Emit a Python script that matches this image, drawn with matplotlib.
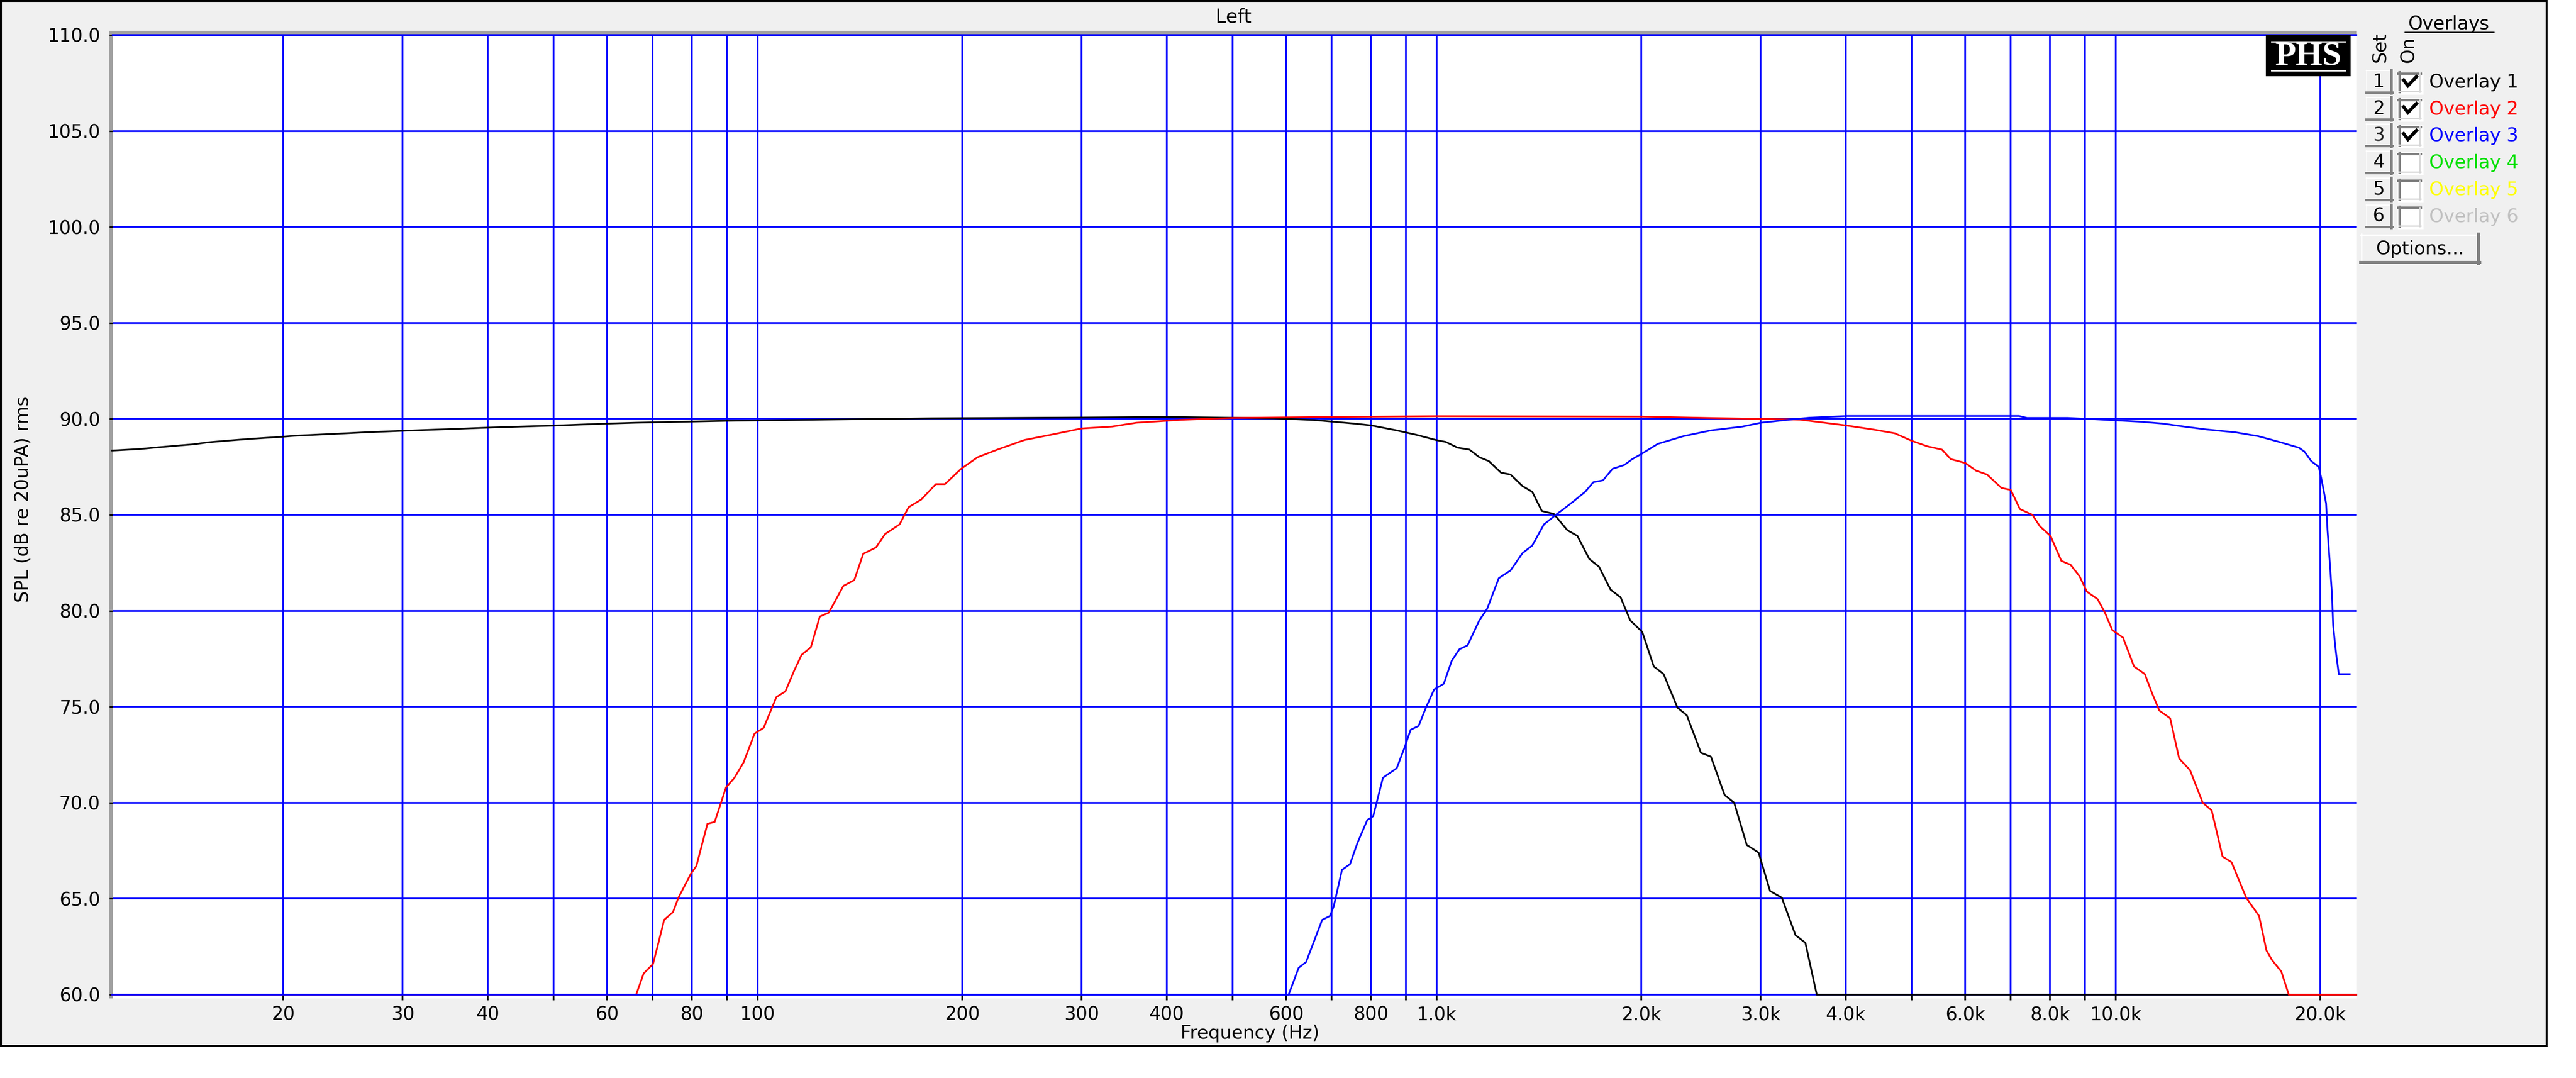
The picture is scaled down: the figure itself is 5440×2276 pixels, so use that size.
import matplotlib
matplotlib.use('Agg')
import matplotlib.pyplot as plt
from matplotlib.patches import Rectangle

plt.rcParams['font.family'] = ['DejaVu Sans']

# ---- values ----
# Overlay 1 (black, low pass)
freq_1 = [11.2, 12.3, 13.0, 13.9, 14.8, 15.5, 16.6, 17.9, 19.6, 21.0, 23.8, 26.4, 30.0, 35.3,
          41.1, 50.0, 59.4, 66, 90, 130, 180, 300, 400, 500, 575, 660, 754, 801, 873, 933, 997,
          1031, 1073, 1117, 1155, 1193, 1243, 1284, 1337, 1382, 1428, 1487, 1557, 1611, 1677,
          1733, 1803, 1865, 1927, 2007, 2087, 2158, 2262, 2335, 2449, 2533, 2654, 2741, 2861,
          2978, 3096, 3222, 3375, 3490, 3627, 22600]
spl_1 = [88.35, 88.43, 88.51, 88.60, 88.68, 88.78, 88.87, 88.96, 89.05, 89.13, 89.22, 89.30,
         89.38, 89.47, 89.56, 89.65, 89.75, 89.80, 89.90, 89.97, 90.03, 90.07, 90.10, 90.06,
         90.03, 89.94, 89.76, 89.66, 89.40, 89.17, 88.90, 88.80, 88.50, 88.40, 88.00, 87.80,
         87.20, 87.10, 86.50, 86.20, 85.20, 85.05, 84.20, 83.90, 82.70, 82.30, 81.10, 80.70,
         79.50, 78.90, 77.10, 76.70, 74.95, 74.55, 72.60, 72.40, 70.40, 70.00, 67.80, 67.40,
         65.40, 65.05, 63.10, 62.70, 60.00, 60.00]

# Overlay 2 (red, band pass)
freq_2 = [11.2, 66.2, 67.9, 70.1, 71.4, 72.8, 75.0, 76.4, 79.7, 81.2, 84.3, 86.4, 89.8, 92.4,
          95.3, 98.9, 102.0, 106.5, 109.8, 113.2, 116.0, 119.7, 123.4, 127.2, 133.7, 138.7,
          143.0, 149.3, 154.0, 161.7, 166.8, 174.1, 182.9, 188.6, 199.3, 210.7, 225.4, 247.0,
          272.6, 299.6, 332.5, 361, 420, 500, 700, 1000, 2000, 2500, 3000, 3428, 4003, 4388,
          4725, 4996, 5278, 5544, 5715, 6004, 6227, 6462, 6787, 7003, 7223, 7535, 7731, 8014,
          8313, 8576, 8842, 9064, 9404, 9638, 9878, 10249, 10635, 11034, 11309, 11590, 12023,
          12396, 12860, 13425, 13841, 14359, 14805, 15561, 16253, 16667, 16985, 17528, 17976,
          22600]
spl_2 = [60.0, 60.0, 61.1, 61.6, 62.7, 63.9, 64.3, 65.05, 66.3, 66.7, 68.9, 69.0, 70.8, 71.3,
         72.1, 73.6, 73.9, 75.5, 75.8, 76.9, 77.7, 78.1, 79.7, 79.9, 81.3, 81.6, 82.97, 83.3,
         84.0, 84.5, 85.4, 85.8, 86.6, 86.6, 87.4, 88.0, 88.4, 88.9, 89.2, 89.5, 89.6, 89.8,
         89.95, 90.05, 90.1, 90.14, 90.12, 90.05, 90.0, 89.96, 89.66, 89.45, 89.25, 88.87,
         88.57, 88.4, 87.9, 87.7, 87.3, 87.1, 86.4, 86.3, 85.3, 85.0, 84.4, 83.9, 82.6, 82.4,
         81.8, 81.0, 80.6, 79.9, 79.0, 78.6, 77.1, 76.7, 75.7, 74.8, 74.4, 72.3, 71.7, 70.0,
         69.6, 67.2, 66.9, 65.05, 64.1, 62.3, 61.8, 61.2, 60.0, 60.0]

# Overlay 3 (blue, high pass)
freq_3 = [11.2, 605, 626, 642, 678, 696, 705, 725, 745, 764, 790, 806, 833, 873, 897, 915, 940,
          965, 991, 1024, 1052, 1080, 1110, 1155, 1186, 1234, 1284, 1337, 1382, 1438, 1497,
          1537, 1589, 1654, 1700, 1757, 1815, 1889, 1940, 2007, 2116, 2308, 2533, 2820, 3000,
          3307, 3534, 4022, 5500, 7200, 7400, 8500, 9800, 10800, 11700, 12600, 13600, 15000,
          16200, 17000, 17600, 18600, 18950, 19400, 19900, 20100, 20400, 20500, 20650, 20800,
          20900, 21100, 21300, 22100]
spl_3 = [60.0, 60.0, 61.4, 61.7, 63.9, 64.1, 64.6, 66.5, 66.8, 67.9, 69.1, 69.3, 71.3, 71.8,
         72.9, 73.8, 74.0, 75.0, 75.9, 76.2, 77.4, 78.0, 78.2, 79.5, 80.1, 81.7, 82.1, 83.0,
         83.4, 84.5, 85.0, 85.3, 85.7, 86.2, 86.7, 86.8, 87.4, 87.6, 87.9, 88.2, 88.7, 89.1,
         89.4, 89.6, 89.8, 89.96, 90.06, 90.15, 90.15, 90.15, 90.05, 90.05, 89.94, 89.86,
         89.76, 89.6, 89.45, 89.3, 89.1, 88.9, 88.75, 88.5, 88.3, 87.8, 87.5, 86.8, 85.6, 84.2,
         82.6, 81.0, 79.2, 77.8, 76.7, 76.7]

grid_freqs = [20, 30, 40, 50, 60, 70, 80, 90, 100, 200, 300, 400, 500, 600, 700, 800, 900,
              1000, 2000, 3000, 4000, 5000, 6000, 7000, 8000, 9000, 10000, 20000]
grid_labels = ['20', '30', '40', '', '60', '', '80', '', '100', '200', '300', '400', '', '600',
               '', '800', '', '1.0k', '2.0k', '3.0k', '4.0k', '', '6.0k', '', '8.0k', '',
               '10.0k', '20.0k']
spl_ticks = [60, 65, 70, 75, 80, 85, 90, 95, 100, 105, 110]
spl_labels = ['%.1f' % v for v in spl_ticks]

overlay_names = ['Overlay 1', 'Overlay 2', 'Overlay 3', 'Overlay 4', 'Overlay 5', 'Overlay 6']
overlay_colors = ['#000000', '#ff0000', '#0000ff', '#00e000', '#ffff00', '#c0c0c0']
overlay_on = [True, True, True, False, False, False]

W, H = 5440, 2276
DPI = 100


def pt(px):
    return px * 72.0 / DPI


fig = plt.figure(figsize=(W / DPI, H / DPI), dpi=DPI)
fig.patch.set_facecolor('white')

# pixel-coordinate background layer
bg = fig.add_axes([0, 0, 1, 1])
bg.set_xlim(0, W)
bg.set_ylim(H, 0)
bg.axis('off')

bg.add_patch(Rectangle((2, 2), 5376, 2206, facecolor='#f0f0f0', edgecolor='black', lw=pt(4)))

L, R, T, B = 238, 4976, 74, 2100
bg.add_patch(Rectangle((231, 65), R - 231, 8, facecolor='#a0a0a0', lw=0))
bg.add_patch(Rectangle((231, 65), 7, 2108 - 65, facecolor='#a0a0a0', lw=0))
bg.add_patch(Rectangle((L, T), R - L, 2108 - T, facecolor='white', lw=0))

# main plot
ax = fig.add_axes([L / W, 1 - B / H, (R - L) / W, (B - T) / H])
ax.set_xscale('log')
ax.set_xlim(11.22, 22600)
ax.set_ylim(60, 110)
ax.set_xticks(grid_freqs)
ax.set_xticklabels(grid_labels)
ax.set_yticks(spl_ticks)
ax.set_yticklabels(spl_labels)
ax.minorticks_off()
ax.set_axisbelow(True)
ax.grid(True, color='#0000ff', lw=pt(3.6))
for s in ['left', 'right']:
    ax.spines[s].set_visible(False)
for s in ['top', 'bottom']:
    ax.spines[s].set_color('#0000ff')
    ax.spines[s].set_linewidth(pt(3.6))
ax.tick_params(axis='x', direction='out', length=pt(12), width=pt(3.5), color='black',
               pad=pt(12), labelsize=28)
ax.tick_params(axis='y', direction='out', length=pt(7), width=pt(3), color='black',
               pad=pt(19), labelsize=28)

ax.plot(freq_1, spl_1, color=overlay_colors[0], lw=pt(3.6), clip_on=False, zorder=3)
ax.plot(freq_2, spl_2, color=overlay_colors[1], lw=pt(3.6), clip_on=False, zorder=4)
ax.plot(freq_3, spl_3, color=overlay_colors[2], lw=pt(3.6), clip_on=False, zorder=5)

# titles
bg.text(2605, 36, 'Left', ha='center', va='center', fontsize=29)
bg.text(2640, 2182, 'Frequency (Hz)', ha='center', va='center', fontsize=28)
bg.text(49, 1054, 'SPL (dB re 20uPA) rms', rotation=90, ha='center', va='center', fontsize=28)

# overlays panel
bg.text(5172, 62, 'Overlays', ha='center', va='baseline', fontsize=28)
bg.plot([5079, 5266], [68, 68], color='black', lw=pt(3))
bg.text(5027, 132, 'Set', rotation=90, ha='center', va='bottom', fontsize=28)
bg.text(5086, 132, 'On', rotation=90, ha='center', va='bottom', fontsize=28)

for i in range(6):
    top = 148 + i * 56.7
    # set button
    bg.add_patch(Rectangle((4997, top), 55, 49, facecolor='#f0f0f0', lw=0))
    bg.plot([4997, 5052], [top + 1, top + 1], color='white', lw=pt(2))
    bg.plot([4998, 4998], [top, top + 49], color='white', lw=pt(2))
    bg.plot([4997, 5052], [top + 47, top + 47], color='#808080', lw=pt(5))
    bg.plot([5050, 5050], [top, top + 49], color='#808080', lw=pt(5))
    bg.text(5023, top + 25, str(i + 1), ha='center', va='center', fontsize=28,
            color='#202020' if i == 2 else 'black')
    # check box
    bg.add_patch(Rectangle((5064, top + 4), 54, 48, facecolor='white', lw=0))
    bg.plot([5064, 5112], [top + 6.5, top + 6.5], color='#808080', lw=pt(5))
    bg.plot([5066.5, 5066.5], [top + 4, top + 46], color='#808080', lw=pt(5))
    bg.plot([5110, 5110], [top + 6, top + 46], color='#d8d8d8', lw=pt(3))
    bg.plot([5066, 5112], [top + 45, top + 45], color='#d8d8d8', lw=pt(3))
    if overlay_on[i]:
        bg.plot([5076, 5085, 5103], [top + 21, top + 33, top + 14], color='black',
                lw=pt(7), solid_joinstyle='miter')
    bg.text(5130, top + 26, overlay_names[i], ha='left', va='center', fontsize=28,
            color=overlay_colors[i])

# options button
bg.add_patch(Rectangle((4985, 494), 252, 63, facecolor='#f0f0f0', lw=0))
bg.plot([4985, 5237], [496, 496], color='white', lw=pt(3))
bg.plot([4987, 4987], [494, 557], color='white', lw=pt(3))
bg.plot([4985, 5237], [554, 554], color='#808080', lw=pt(6))
bg.plot([5234, 5234], [494, 557], color='#808080', lw=pt(6))
bg.text(5111, 526, 'Options...', ha='center', va='center', fontsize=28)

# PHS logo over the plot corner
fg = fig.add_axes([0, 0, 1, 1])
fg.set_xlim(0, W)
fg.set_ylim(H, 0)
fg.axis('off')
fg.patch.set_visible(False)
fg.add_patch(Rectangle((4785, 74), 179, 87, facecolor='black', lw=0))
fg.plot([4797, 4952], [88, 88], color='white', lw=pt(3))
fg.plot([4797, 4952], [149, 149], color='white', lw=pt(3))
fg.text(4875, 120, 'PHS', ha='center', va='center', fontsize=52, color='white',
        family='Liberation Serif', weight='bold')

plt.savefig('out.png', dpi=DPI)
